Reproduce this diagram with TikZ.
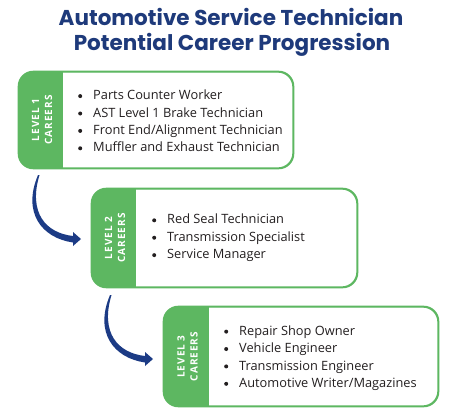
\documentclass[tikz,border=0pt]{standalone}
\usepackage{fontspec}
\setmainfont{Open Sans}
\newfontfamily\titlefont{Poppins}
\newfontfamily\labelfont{Open Sans}[LetterSpace=10]
\definecolor{navy}{HTML}{1E3A7B}
\definecolor{grn}{HTML}{5DB761}
\definecolor{arrowblue}{HTML}{1C3B85}
\definecolor{txt}{HTML}{231F20}
\tikzset{
  careerbox/.style={draw=grn, line width=1.3pt, rounded corners=15pt, inner sep=0pt, fill=white},
  titletext/.style={font=\titlefont\bfseries\fontsize{21.5}{24}\selectfont, text=navy, anchor=base, inner sep=0pt},
  levellabel/.style={rotate=90, text=white, font=\labelfont\bfseries\fontsize{10}{13}\selectfont, align=center, inner sep=0pt},
  listtext/.style={anchor=west, align=left, text=txt, inner sep=0pt, font=\fontsize{12.8}{17.4}\selectfont},
  arrowshape/.style={fill=arrowblue, draw=none}
}
\newcommand{\bul}{\makebox[15.5pt][l]{\hspace{0.5pt}\tikz[baseline=-3.6pt]\fill[txt] (0,0) circle (2pt);}}
\newcommand{\careerarrow}[1]{%
  \begin{scope}[shift={(#1)}]
    \fill[arrowshape] (0,0) .. controls (-16,38) and (4,63) .. (35,67.5)
      -- (35,71) -- (43,64) -- (35,57) -- (35,61)
      .. controls (8,58) and (-10,38) .. (1.5,0) -- cycle;
  \end{scope}}
\begin{document}
\begin{tikzpicture}[x=1pt,y=-1pt]
\useasboundingbox (0,0) rectangle (459,416);
\fill[white] (0,0) rectangle (459,416);

\node[titletext] (t1) at (231,25) {Automotive Service Technician};
\node[titletext] (t2) at (232,50) {Potential Career Progression};

% boxes
\node[careerbox, minimum width=274pt, minimum height=96pt] (b1) at (156,120) {};
\node[careerbox, minimum width=265pt, minimum height=98pt] (b2) at (224.5,238) {};
\node[careerbox, minimum width=274pt, minimum height=99pt] (b3) at (301,356.5) {};

\foreach \b/\w in {b1/45,b2/45,b3/46}{
  \begin{scope}
    \clip[rounded corners=15pt] (\b.south west) rectangle (\b.north east);
    \fill[grn] (\b.south west) rectangle ([xshift=\w pt]\b.north west);
  \end{scope}
  \draw[draw=grn, line width=1.3pt, rounded corners=15pt] (\b.south west) rectangle (\b.north east);
}

\node[levellabel] (l1) at (42,120) {LEVEL 1\\CAREERS};
\node[levellabel] (l2) at (115,238) {LEVEL 2\\CAREERS};
\node[levellabel] (l3) at (187.5,356.5) {LEVEL 3\\CAREERS};

\node[listtext] (p1) at (77.5,121) {\bul Parts Counter Worker\\\bul AST Level 1 Brake Technician\\\bul Front End/Alignment Technician\\\bul Muffler and Exhaust Technician};
\node[listtext] (p2) at (151.5,238) {\bul Red Seal Technician\\\bul Transmission Specialist\\\bul Service Manager};
\node[listtext] (p3) at (223.5,358) {\bul Repair Shop Owner\\\bul Vehicle Engineer\\\bul Transmission Engineer\\\bul Automotive Writer/Magazines};

\coordinate (a1) at (38,175);
\coordinate (a2) at (110,295);
\careerarrow{a1}
\careerarrow{a2}
\end{tikzpicture}
\end{document}
